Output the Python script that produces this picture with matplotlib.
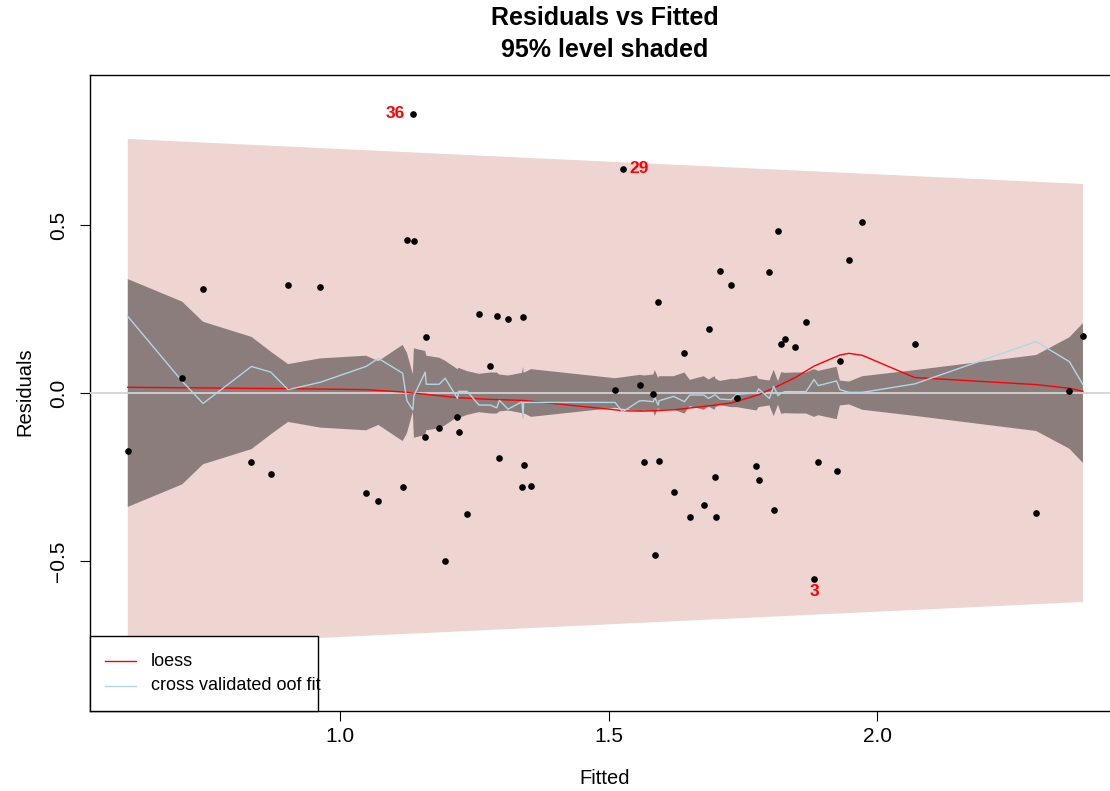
import numpy as np
import matplotlib
matplotlib.use("Agg")
import matplotlib.pyplot as plt
from matplotlib.patches import Rectangle, Polygon
from matplotlib.lines import Line2D

plt.rcParams['font.family'] = ['Liberation Sans', 'DejaVu Sans']

# ---- data ----
fitted = [0.606, 0.707, 0.746, 0.836, 0.872, 0.904, 0.964, 1.049, 1.072, 1.117,
          1.125, 1.136, 1.138, 1.159, 1.161, 1.185, 1.196, 1.219, 1.221, 1.237,
          1.259, 1.280, 1.292, 1.297, 1.313, 1.339, 1.341, 1.342, 1.356, 1.512,
          1.526, 1.558, 1.566, 1.583, 1.586, 1.592, 1.594, 1.621, 1.641, 1.651,
          1.677, 1.686, 1.697, 1.699, 1.707, 1.728, 1.738, 1.775, 1.779, 1.799,
          1.807, 1.815, 1.821, 1.828, 1.846, 1.867, 1.882, 1.890, 1.924, 1.930,
          1.947, 1.972, 2.069, 2.295, 2.357, 2.382]
residuals = [-0.173, 0.045, 0.310, -0.204, -0.240, 0.320, 0.314, -0.297, -0.320, -0.281,
             0.455, 0.831, 0.451, -0.130, 0.168, -0.105, -0.501, -0.071, -0.117, -0.359,
             0.236, 0.080, 0.229, -0.194, 0.219, -0.281, 0.226, -0.215, -0.276, 0.010,
             0.667, 0.023, -0.204, -0.003, -0.482, 0.270, -0.202, -0.294, 0.118, -0.370,
             -0.332, 0.190, -0.251, -0.370, 0.362, 0.322, -0.016, -0.218, -0.258, 0.359,
             -0.348, 0.482, 0.146, 0.161, 0.137, 0.210, -0.553, -0.205, -0.231, 0.094,
             0.396, 0.510, 0.147, -0.356, 0.007, 0.171]
# half-width of the dark (cross-validated) band at each fitted value
cv_halfwidth = [0.339, 0.272, 0.212, 0.167, 0.123, 0.086, 0.103, 0.111, 0.095, 0.143,
                0.120, 0.056, 0.133, 0.125, 0.111, 0.105, 0.096, 0.071, 0.075, 0.065,
                0.057, 0.061, 0.061, 0.055, 0.052, 0.060, 0.078, 0.060, 0.071, 0.044,
                0.047, 0.054, 0.052, 0.055, 0.068, 0.045, 0.050, 0.050, 0.061, 0.039,
                0.050, 0.040, 0.050, 0.042, 0.036, 0.042, 0.042, 0.052, 0.042, 0.037,
                0.069, 0.035, 0.062, 0.060, 0.061, 0.061, 0.071, 0.066, 0.078, 0.037,
                0.034, 0.050, 0.068, 0.113, 0.166, 0.208]
# cross validated out-of-fold fit
cv_fit = [0.228, 0.035, -0.031, 0.079, 0.062, 0.010, 0.032, 0.079, 0.103, 0.059,
          -0.023, -0.050, -0.008, 0.062, 0.026, 0.026, 0.044, -0.016, 0.005, 0.005,
          -0.036, -0.036, -0.044, -0.022, -0.048, -0.026, -0.070, -0.028, -0.028, -0.028,
          -0.056, -0.023, -0.023, -0.026, -0.013, -0.036, -0.023, -0.010, -0.026, -0.006,
          -0.006, -0.016, -0.006, -0.006, -0.018, -0.020, -0.004, 0.000, 0.012, -0.016,
          0.020, -0.008, 0.000, 0.004, 0.004, 0.004, 0.040, 0.022, 0.036, 0.010,
          0.002, 0.002, 0.027, 0.153, 0.093, 0.025]
# loess smooth
loess_x = [0.606, 0.746, 0.904, 1.049, 1.117, 1.161, 1.219, 1.280, 1.341, 1.512,
           1.526, 1.566, 1.621, 1.677, 1.728, 1.779, 1.807, 1.846, 1.882, 1.930,
           1.947, 1.972, 2.069, 2.295, 2.357, 2.382]
loess_y = [0.017, 0.015, 0.013, 0.010, 0.003, -0.004, -0.014, -0.019, -0.022, -0.050,
           -0.053, -0.054, -0.050, -0.040, -0.030, -0.005, 0.015, 0.045, 0.080, 0.113,
           0.118, 0.112, 0.046, 0.025, 0.014, 0.005]
# 95% level band (outer, light)
band_x = [0.606, 2.382]
band_halfwidth = [0.756, 0.622]
# labelled points
label_idx = [11, 30, 56]
label_text = ["36", "29", "3"]

W, H = 1110, 791
fig = plt.figure(figsize=(W / 100, H / 100), dpi=100)
ax_left, ax_right, ax_top, ax_bot = 89.5, 1120.9, 75.3, 710.7
ax = fig.add_axes([ax_left / W, (H - ax_bot) / H, (ax_right - ax_left) / W, (ax_bot - ax_top) / H])
ax.set_xlim(0.5348, 2.4526)
ax.set_ylim(-0.9455, 0.9455)

fx = np.array(fitted)
bx = np.array(band_x)
bh = np.array(band_halfwidth)
ax.add_patch(Polygon(np.column_stack([np.r_[bx, bx[::-1]], np.r_[bh, -bh[::-1]]]),
                     closed=True, facecolor='#EED5D2', edgecolor='none', zorder=1))
ch = np.array(cv_halfwidth)
ax.add_patch(Polygon(np.column_stack([np.r_[fx, fx[::-1]], np.r_[ch, -ch[::-1]]]),
                     closed=True, facecolor='#8B7D7B', edgecolor='none', zorder=2))
ax.axhline(0, color='#D3D3D3', lw=1.3, zorder=3)
ax.plot(loess_x, loess_y, color='red', lw=1.0, zorder=4)
ax.plot(fitted, cv_fit, color='#ADD8E6', lw=1.0, zorder=4)
ax.plot(fitted, residuals, 'o', color='black', ms=4.8, mec='none', zorder=5)

offsets = [(-7.5, 0, 'right', 'center'), (6.5, 0, 'left', 'center'), (0, -5, 'center', 'top')]
for i, t, (dx, dy, ha, va) in zip(label_idx, label_text, offsets):
    ax.annotate(t, (fitted[i], residuals[i]), xytext=(dx, dy), textcoords='offset pixels',
                ha=ha, va=va, color='red', fontweight='bold', fontsize=12.5, zorder=6)

ax.set_xticks([1.0, 1.5, 2.0])
ax.set_xticklabels(['1.0', '1.5', '2.0'])
ax.set_yticks([-0.5, 0.0, 0.5])
ax.set_yticklabels(['\u22120.5', '0.0', '0.5'])
ax.tick_params(axis='both', direction='out', length=7.2, width=0.8, labelsize=15)
ax.tick_params(axis='x', pad=4.5)
ax.tick_params(axis='y', pad=8)
for lab in ax.get_yticklabels():
    lab.set_rotation(90)
    lab.set_va('center')
for s in ax.spines.values():
    s.set_linewidth(1.0)

fig.text(605 / W, 1 - 18 / H, 'Residuals vs Fitted', ha='center', va='center',
         fontsize=18, fontweight='bold')
fig.text(605 / W, 1 - 50 / H, '95% level shaded', ha='center', va='center',
         fontsize=18, fontweight='bold')
fig.text(605 / W, 1 - 778 / H, 'Fitted', ha='center', va='center', fontsize=14.5)
fig.text(25 / W, 1 - 392 / H, 'Residuals', ha='center', va='center', fontsize=14.5, rotation=90)

# legend (bottom-left, R style)
fig.add_artist(Rectangle((ax_left / W, (H - ax_bot) / H), (317.7 - ax_left) / W, (ax_bot - 635.7) / H,
                         transform=fig.transFigure, facecolor='white', edgecolor='black', lw=1.0, zorder=10))
for yy, col, txt in [(661, 'red', 'loess'), (686, '#ADD8E6', 'cross validated oof fit')]:
    fig.add_artist(Line2D([105 / W, 135.7 / W], [1 - yy / H] * 2, color=col, lw=1.0,
                          transform=fig.transFigure, zorder=11))
    fig.text(150.7 / W, 1 - yy / H, txt, ha='left', va='center', fontsize=13, zorder=11)

fig.savefig('out.png', dpi=100)
